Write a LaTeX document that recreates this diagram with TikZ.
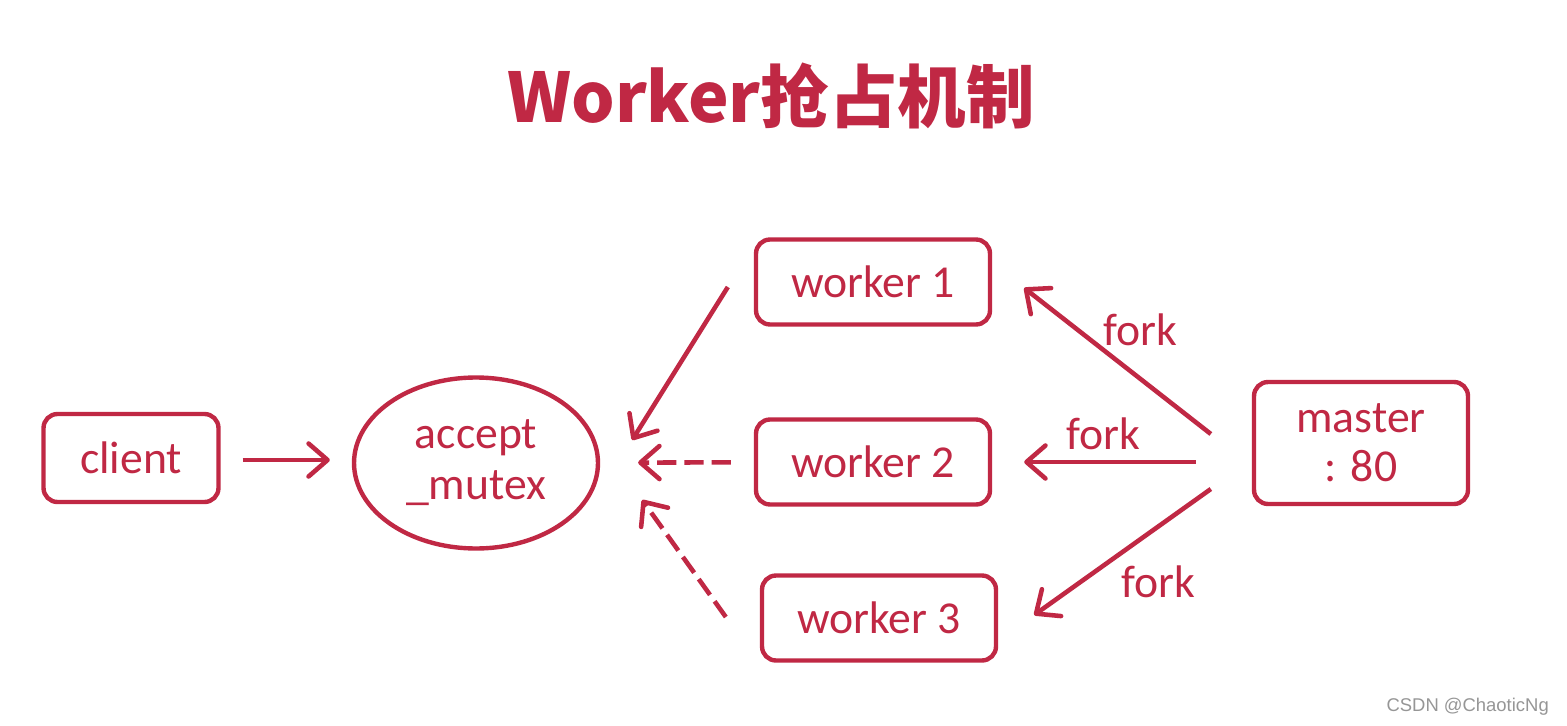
\documentclass[tikz,border=0pt]{standalone}
\usepackage{fontspec}
\setmainfont{Carlito}
\newfontfamily\cjk{Noto Sans CJK SC}
\newfontfamily\markfont{Liberation Sans}
\usetikzlibrary{arrows.meta}
\usetikzlibrary{calc}
\usetikzlibrary{shapes.geometric}
\definecolor{redline}{RGB}{192,40,68}
\definecolor{markgray}{RGB}{150,150,150}
\tikzset{procbox/.style={draw=redline, line width=2.5pt, rounded corners=0.28cm, text=redline, font=\fontsize{26}{28}\selectfont, align=center}}
\tikzset{lockshape/.style={ellipse, draw=redline, line width=2.5pt, text=redline, font=\fontsize{26}{29}\selectfont, align=center, inner sep=0pt, minimum width=4.88cm, minimum height=3.42cm}}
\tikzset{arr/.style={draw=redline, line width=2.6pt, -{Straight Barb[length=0.38cm, width=0.66cm, line width=2.6pt, round]}}}
\tikzset{dasharr/.style={arr, dash pattern=on 11pt off 4.5pt}}
\tikzset{forklabel/.style={text=redline, font=\fontsize{26}{28}\selectfont, inner sep=0pt}}

\begin{document}
\begin{tikzpicture}[x=0.02cm, y=-0.02cm]

\useasboundingbox[fill=white] (0,0) rectangle (1567,726);

\node[text=redline, font=\cjk\bfseries\fontsize{39}{43}\selectfont] (title) at (771,96) {Worker抢占机制};

\node[procbox, minimum width=3.5cm, minimum height=1.76cm] (client) at (131,458) {client};
\node[lockshape] (acc) at (476,463) {accept\\\_mutex};
\node[procbox, minimum width=4.68cm, minimum height=1.7cm] (w1) at (873,282) {worker 1};
\node[procbox, minimum width=4.68cm, minimum height=1.7cm] (w2) at (873,462) {worker 2};
\node[procbox, minimum width=4.68cm, minimum height=1.7cm] (w3) at (879,618) {worker 3};
\node[procbox, minimum width=4.28cm, minimum height=2.44cm] (master) at (1361,443) {master\\: 80};

\draw[arr, shorten <=0.44cm, shorten >=0.44cm] ($(client.east)+(0,2)$) -- ($(client.east -| acc.west)+(0,2)$);

\draw[arr] ($(w1.west)+(-26,5)$) -- ($(acc.east)+(32,-23)$);
\draw[dasharr, shorten <=0.46cm, shorten >=0.76cm] (w2) -- (acc);
\draw[dasharr] ($(w3.west)+(-34,-1)$) -- ($(acc.east)+(42,37)$);

% fork
\draw[arr] ($(master.west)+(-41,-9)$) -- ($(w1.east)+(32,6)$);
\draw[arr, shorten <=1.12cm, shorten >=0.64cm] (master.west |- w2.east) -- (w2.east);
\draw[arr] ($(master.west)+(-41,46)$) -- ($(w3.east)+(36,-3)$);

\node[forklabel] (f1) at (1140,330) {fork};
\node[forklabel] (f2) at (1103,434) {fork};
\node[forklabel] (f3) at (1158,582) {fork};

\node[text=markgray, font=\markfont\fontsize{10.5}{12}\selectfont, anchor=east] (mark) at (1555,707) {CSDN @ChaoticNg};
\end{tikzpicture}
\end{document}
